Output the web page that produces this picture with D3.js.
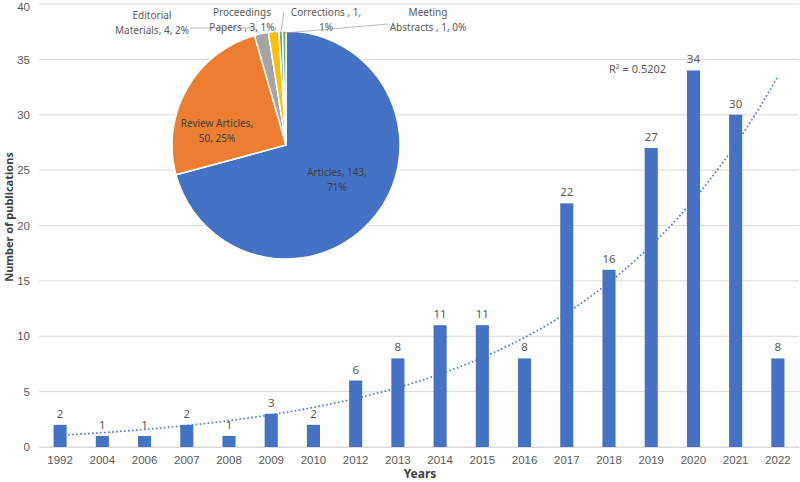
<!DOCTYPE html>
<html>
<head>
<meta charset="utf-8">
<script src="https://cdn.jsdelivr.net/npm/d3@7"></script>
<style>
  body { margin: 0; background: #fff; }
  svg { display: block; font-family: "Noto Sans", "DejaVu Sans", sans-serif; }
</style>
</head>
<body>
<svg id="chart" width="800" height="482"></svg>
<script>
// bar data
const years = ['1992', '2004', '2006', '2007', '2008', '2009', '2010', '2012', '2013',
  '2014', '2015', '2016', '2017', '2018', '2019', '2020', '2021', '2022'];
const counts = [2, 1, 1, 2, 1, 3, 2, 6, 8, 11, 11, 8, 22, 16, 27, 34, 30, 8];
const yTicks = [0, 5, 10, 15, 20, 25, 30, 35, 40];
const r2Text = 'R² = 0.5202';

// pie data
const docTypes = ['Articles', 'Review Articles', 'Editorial Materials', 'Proceedings Papers', 'Corrections', 'Meeting Abstracts'];
const docCounts = [143, 50, 4, 3, 1, 1];
const docLabels = [
  ['Articles, 143,', '71%'],
  ['Review Articles,', '50, 25%'],
  ['Editorial', 'Materials, 4, 2%'],
  ['Proceedings', 'Papers , 3, 1%'],
  ['Corrections , 1,', '1%'],
  ['Meeting', 'Abstracts , 1, 0%']
];
const docColors = ['#4472C4', '#ED7D31', '#A5A5A5', '#FFC000', '#5B9BD5', '#70AD47'];

const svg = d3.select('#chart');
const plot = { left: 39, right: 799, top: 4, bottom: 447 };

const x = d3.scaleBand()
  .domain(years)
  .range([plot.left, plot.right])
  .paddingInner(0.69)
  .paddingOuter(0.345);

const y = d3.scaleLinear()
  .domain([0, 40])
  .range([plot.bottom, plot.top]);

// gridlines
svg.append('g')
  .selectAll('line')
  .data(yTicks)
  .enter()
  .append('line')
  .attr('x1', plot.left)
  .attr('x2', plot.right)
  .attr('y1', d => y(d))
  .attr('y2', d => y(d))
  .attr('stroke', '#d9d9d9')
  .attr('stroke-width', 1);

// y axis labels
const yAxis = svg.append('g')
  .attr('transform', `translate(${plot.left},0)`)
  .call(d3.axisLeft(y).tickValues(yTicks).tickSize(0).tickPadding(9));
yAxis.select('.domain').remove();
yAxis.selectAll('text')
  .attr('fill', '#595959')
  .style('font-size', '11.5px');
// keep the top label inside the frame
yAxis.selectAll('.tick').filter(d => d === 40).select('text').attr('dy', '0.6em');

// x axis
const xAxis = svg.append('g')
  .attr('transform', `translate(0,${plot.bottom})`)
  .call(d3.axisBottom(x).tickSize(0).tickPadding(9));
xAxis.select('.domain').attr('stroke', '#d9d9d9');
xAxis.selectAll('text')
  .attr('fill', '#595959')
  .style('font-size', '11.5px');

// bars
svg.append('g')
  .selectAll('rect')
  .data(counts)
  .enter()
  .append('rect')
  .attr('x', (d, i) => x(years[i]))
  .attr('y', d => y(d))
  .attr('width', x.bandwidth())
  .attr('height', d => y(0) - y(d))
  .attr('fill', '#4472C4');

// bar labels
svg.append('g')
  .selectAll('text')
  .data(counts)
  .enter()
  .append('text')
  .attr('x', (d, i) => x(years[i]) + x.bandwidth() / 2)
  .attr('y', d => y(d) - 7)
  .attr('text-anchor', 'middle')
  .attr('fill', '#595959')
  .style('font-size', '11.5px')
  .text(d => d);

// exponential trendline, least squares on ln(count)
const idx = counts.map((d, i) => i + 1);
const lnv = counts.map(d => Math.log(d));
const mx = d3.mean(idx), my = d3.mean(lnv);
const b = d3.sum(idx, (v, i) => (v - mx) * (lnv[i] - my)) / d3.sum(idx, v => (v - mx) * (v - mx));
const a = Math.exp(my - b * mx);
const xi = d3.scaleLinear()
  .domain([1, counts.length])
  .range([x(years[0]) + x.bandwidth() / 2, x(years[years.length - 1]) + x.bandwidth() / 2]);
const trend = d3.range(1, counts.length + 0.001, 0.1).map(t => [t, a * Math.exp(b * t)]);
svg.append('path')
  .datum(trend)
  .attr('d', d3.line().x(d => xi(d[0])).y(d => y(d[1])))
  .attr('fill', 'none')
  .attr('stroke', '#4472C4')
  .attr('stroke-width', 1.6)
  .attr('stroke-dasharray', '1.6,2.4');

svg.append('text')
  .attr('x', 609)
  .attr('y', 73)
  .attr('fill', '#595959')
  .style('font-size', '11px')
  .text(r2Text);

// axis titles
svg.append('text')
  .attr('transform', 'translate(13,217) rotate(-90)')
  .attr('text-anchor', 'middle')
  .attr('fill', '#404040')
  .style('font-size', '11px')
  .style('font-weight', 'bold')
  .text('Number of publications');

svg.append('text')
  .attr('x', 420)
  .attr('y', 478)
  .attr('text-anchor', 'middle')
  .attr('fill', '#404040')
  .style('font-size', '12px')
  .style('font-weight', 'bold')
  .text('Years');

// pie inset
const pieC = { x: 286, y: 145, r: 114 };
const pieG = svg.append('g').attr('transform', `translate(${pieC.x},${pieC.y})`);
const pie = d3.pie().sort(null).value(d => d);
const arcs = pie(docCounts);
const arc = d3.arc().innerRadius(0).outerRadius(pieC.r);

pieG.selectAll('path')
  .data(arcs)
  .enter()
  .append('path')
  .attr('d', arc)
  .attr('fill', (d, i) => docColors[i])
  .attr('stroke', '#fff')
  .attr('stroke-width', 1.5);

// label anchors and leader lines for the small slices
const labelPos = [[337, 172], [217, 123], [152, 15], [242, 12], [326, 12], [428, 12]];
const leaders = [null, null, [[190, 28], [254, 28]], [[276, 27]], [[284, 12]], [[388, 24]]];
const edge = d3.arc().innerRadius(pieC.r - 2).outerRadius(pieC.r - 2);

leaders.forEach((pts, i) => {
  if (!pts) return;
  const c = edge.centroid(arcs[i]);
  svg.append('path')
    .attr('d', d3.line()(pts.concat([[pieC.x + c[0], pieC.y + c[1]]])))
    .attr('fill', 'none')
    .attr('stroke', '#a6a6a6')
    .attr('stroke-width', 0.8);
});

docLabels.forEach((lines, i) => {
  const t = svg.append('text')
    .attr('text-anchor', 'middle')
    .attr('fill', i < 2 ? '#404040' : '#595959')
    .style('font-size', '10px');
  lines.forEach((ln, j) => {
    t.append('tspan')
      .attr('x', labelPos[i][0])
      .attr('y', labelPos[i][1] + 4 + j * 15)
      .text(ln);
  });
});
</script>
</body>
</html>
